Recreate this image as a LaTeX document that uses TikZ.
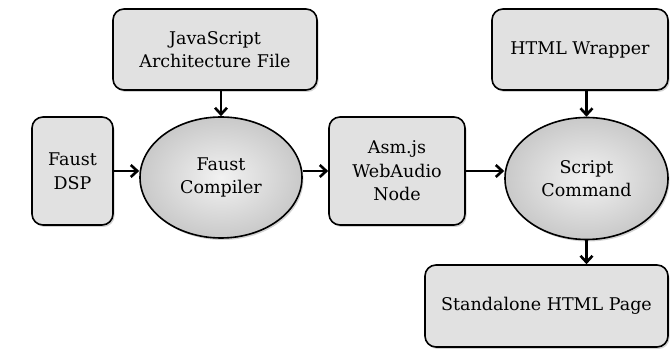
\documentclass[tikz,border=0pt]{standalone}
\usepackage{fontspec}
\setmainfont{DejaVu Serif}
\usetikzlibrary{arrows.meta,shapes.geometric,shadows}
\definecolor{boxfill}{HTML}{E1E1E1}
\definecolor{ellin}{HTML}{F2F2F2}
\definecolor{ellout}{HTML}{C9C9C9}
\tikzset{
  box/.style={draw=black, line width=1.6pt, rounded corners=11pt, fill=boxfill,
    align=center, font=\fontsize{17.5}{23.5}\selectfont,
    drop shadow={shadow xshift=1.5pt, shadow yshift=-2pt, opacity=0.35}},
  proc/.style={draw=black, line width=1.6pt, ellipse, inner sep=0pt,
    inner color=ellin, outer color=ellout, align=center,
    font=\fontsize{17.5}{23.5}\selectfont,
    drop shadow={shadow xshift=1.5pt, shadow yshift=-2pt, opacity=0.35}},
  arr/.style={line width=2.6pt, -{Straight Barb[length=6.5pt,width=12pt,line width=2.6pt]}}
}
\begin{document}
\begin{tikzpicture}[x=1pt,y=1pt]
\useasboundingbox (0,0) rectangle (670,356);
\node[box, minimum width=204pt, minimum height=81pt] (js) at (215,306.5) {JavaScript\\Architecture File};
\node[box, minimum width=81pt, minimum height=108pt] (dsp) at (72.5,185) {Faust\\DSP};
\node[proc, minimum width=162pt, minimum height=121pt] (comp) at (221,178.5) {Faust\\Compiler};
\node[box, minimum width=136pt, minimum height=108pt] (asm) at (397,185) {Asm.js\\WebAudio\\Node};
\node[proc, minimum width=163pt, minimum height=122pt] (scr) at (586.5,177.5) {Script\\Command};
\node[box, minimum width=176pt, minimum height=81pt] (html) at (580,306.5) {HTML Wrapper};
\node[box, minimum width=243pt, minimum height=82pt] (sa) at (546.5,50) {Standalone HTML Page};
\draw[arr] (comp.north |- js.south) -- (comp.north);
\draw[arr] (dsp.east) -- (comp.west |- dsp.east);
\draw[arr] (comp.east |- asm.west) -- (asm.west);
\draw[arr] (asm.east) -- (scr.west |- asm.east);
\draw[arr] (scr.north |- html.south) -- (scr.north);
\draw[arr] (scr.south) -- (scr.south |- sa.north);
\end{tikzpicture}
\end{document}
